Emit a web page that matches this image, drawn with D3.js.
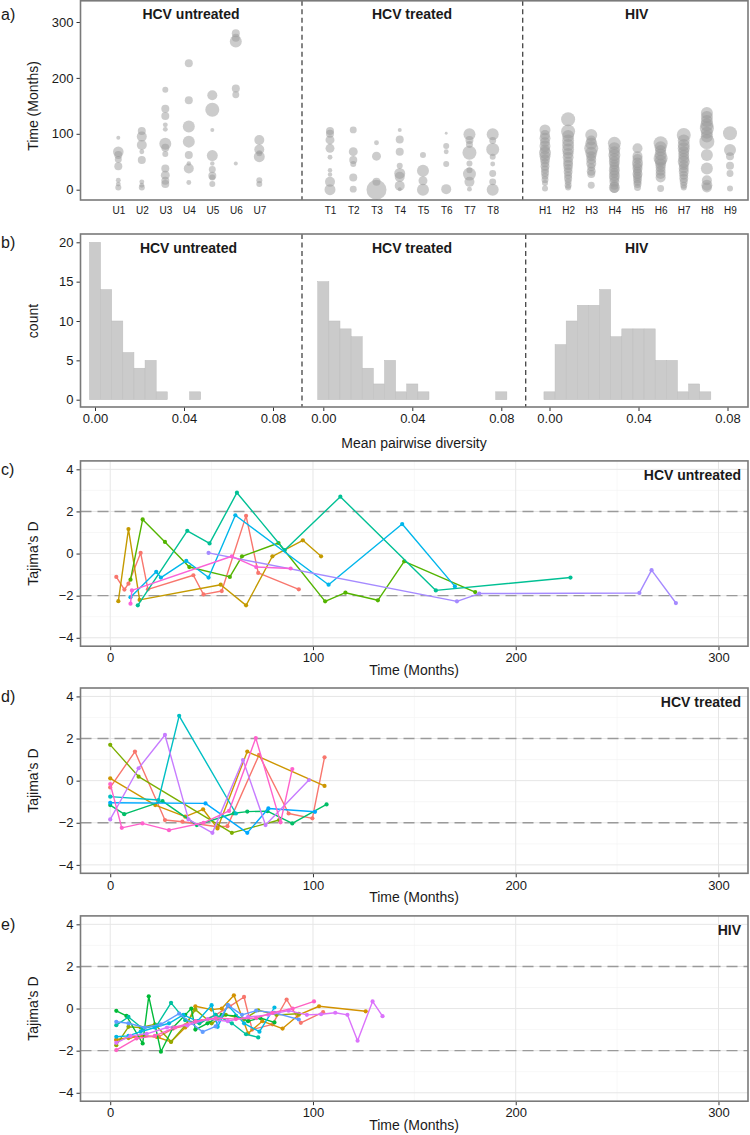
<!DOCTYPE html>
<html><head><meta charset="utf-8">
<script src="https://cdn.jsdelivr.net/npm/d3@7"></script>
<style>
body{margin:0;background:#fff}
text{font-family:"Liberation Sans",Arial,Helvetica,sans-serif}
</style>
</head><body>
<svg id="chart" width="750" height="1135"></svg>
<script>
// ---------- Panel a: sampling times per patient (bubble size = sample size) ----------
const untreatedIds = ["U1","U2","U3","U4","U5","U6","U7"];
const untreatedTimes = [
  [93,68,62,54,42,17,10,4],
  [105,95,80,68,53,14,8,4],
  [179,145,132,116,108,82,75,64,38,26,16,10],
  [226,160,113,86,62,47,38,13],
  [169,143,107,61,47,36,25,22,10],
  [280,272,265,181,170,47],
  [89,72,65,59,17,10]
];
const untreatedSizes = [
  [4,28,16,12,16,6,6,9],
  [16,25,25,6,16,6,6,9],
  [9,16,16,6,6,36,16,9,16,20,16,16],
  [16,16,36,36,16,5,25,6],
  [25,49,4,30,5,12,16,9,9],
  [16,16,36,16,12,4],
  [25,25,9,30,9,9]
];
const treatedIds = ["T1","T2","T3","T4","T5","T6","T7","T8"];
const treatedTimes = [
  [105,100,89,74,58,35,27,14,0],
  [107,68,53,46,22,1],
  [84,60,14,0],
  [107,90,68,43,29,23,7,1],
  [62,34,16,0],
  [101,78,68,46,1],
  [99,89,81,66,47,35,28,14,1],
  [99,88,72,59,46,29,14,0]
];
const treatedSizes = [
  [16,16,20,20,6,5,5,25,30],
  [12,20,16,9,16,12],
  [6,20,16,100],
  [4,16,16,9,30,25,25,4],
  [9,36,20,36],
  [2,9,6,9,25],
  [36,16,12,49,9,9,42,25,6],
  [36,12,42,9,6,12,12,36]
];
const hivIds = ["H1","H2","H3","H4","H5","H6","H7","H8","H9"];
const hivTimes = [
  [107,98,92,85,78,72,66,60,54,48,42,36,30,24,18,12,2],
  [126,104,96,88,80,72,65,58,50,44,38,32,26,20,14,8,4],
  [98,88,82,74,66,60,54,47,40,33,28,8],
  [83,74,68,62,56,50,45,40,35,30,25,20,14,8,4,2],
  [74,60,55,48,43,38,33,28,24,19,14,10,4],
  [83,76,70,63,56,52,46,40,34,28,22,2],
  [98,88,80,74,68,62,56,50,44,38,32,26,20,14,8,4],
  [137,130,123,116,110,102,95,86,62,38,17,8,4],
  [101,71,60,43,29,2]
];
const hivSizes = [
  [30,25,30,25,30,25,36,30,25,20,20,16,16,12,12,9,9],
  [49,49,36,36,36,36,30,30,25,25,20,20,16,16,12,12,9],
  [36,25,36,49,36,25,25,25,16,20,16,12],
  [42,36,30,36,30,30,25,25,30,25,30,25,25,20,30,20],
  [25,25,25,30,25,25,20,25,20,20,16,16,12],
  [49,36,30,36,49,36,30,25,25,25,25,12],
  [49,36,36,36,30,30,30,36,25,25,25,20,20,16,12,9],
  [36,36,36,42,49,36,36,56,36,36,25,30,25],
  [49,36,16,16,12,9]
];
const timeTicks = [0,100,200,300];

// ---------- Panel b: histogram of mean pairwise diversity (bins of 0.005 starting at 0) ----------
const binWidth = 0.005;
const untreatedCounts = [20,14,10,6,4,5,1,0,0,1];
const treatedCounts = [15,10,9,8,4,2,5,1,2,1,0,0,0,0,0,0,1];
const hivCounts = [1,7,10,12,12,14,8,9,9,9,5,5,1,2,1];
const countTicks = [0,5,10,15,20];
const diversityTicks = [0,0.04,0.08];
const groupNames = ["HCV untreated","HCV treated","HIV"];

// ---------- Panels c-e: Tajima's D over time ----------
const tajimaTicksX = [0,100,200,300];
const tajimaTicksY = [-4,-2,0,2,4];
const untreatedTajT = [
  [3,7,9,15,18.6,41,46,55,67,73,93],
  [4,9,14.5,54.5,67,80,95,104],
  [10,16,27,39,59,65,83,106,116,132,145,180],
  [13.6,38,49,62.5,86,113.5,160.6,227],
  [10,22.7,25,37.5,48.5,61.7,107.7,144,170],
  [48.5,171,182,261,267,279],
  [10,10.7,60,72,89]
];
const untreatedTajD = [
  [-1.11,-1.71,-1.43,0.03,-1.7,-1.03,-1.94,-1.78,1.79,-0.92,-1.70],
  [-2.26,1.16,-2.2,-1.48,-2.46,-0.13,0.63,-0.13],
  [-1.24,1.62,0.55,-0.64,-1.11,-0.13,0.5,-2.27,-1.86,-2.22,-0.37,-1.83],
  [-2.46,1.08,0.48,2.89,0.16,2.7,-1.75,-1.14],
  [-2.07,-0.87,-1.14,-0.35,-1.14,1.82,-1.48,1.40,-1.56],
  [0.03,-2.27,-1.9,-1.87,-0.79,-2.35],
  [-2.38,-1.75,-0.13,-0.64,-0.71]
];
const treatedTajT = [
  [0,12.2,27,35.6,52.9,57.8,73.4,88,99.7,105.7],
  [0,22.2,37,45.8,52.9,67.6,105.7],
  [0,14,60,83.3],
  [0,6.9,25.8,42.7,61,67.6,77.5,89.8,106.7],
  [0,23.8,34,62],
  [0,47,67.6,78,101],
  [0,14,27,38.6,50.4,65.5,76.6,98],
  [0,5.7,15.9,29,46,58.6,71.8,84,89.8]
];
const treatedTajD = [
  [-0.32,1.38,-1.87,-1.95,-2.19,-2.16,1.22,-1.56,-1.79,1.11],
  [0.11,-1.16,-1.71,-1.36,-2.27,1.38,-0.25],
  [1.7,0.19,-2.48,-1.87],
  [-1.16,-1.59,-0.97,-2.11,-1.55,-1.47,-1.45,-2.03,-1.13],
  [-0.76,-0.92,3.08,-1.56],
  [-1.05,-1.08,-2.48,-1.32,-1.48],
  [-1.84,0.59,2.17,-1.84,-2.48,0.98,-2.11,0.03],
  [-0.16,-2.24,-2.03,-2.35,-2.0,-1.44,2.02,-1.98,0.55]
];
const hivTajT = [
  [3,10,17,24,31,38,45,52,59,66,70,80,87,94,105],
  [3,9,16,23,30,37,42,50,55,61,68,75,85,93,103,126],
  [3,9,15,22,30,37,42,50,57,66,73,82,93],
  [3,8,16,19,25,31,37,40,42,48,55,62,68,74,81],
  [3,9,16,23,30,37,44,52,60,67,73],
  [3,9,15,22,29,36,43,50,53,58,66,73.6,81],
  [3,9,17,25,34,45.6,52,58,65,72,81,93],
  [3,10,18,28,38,48,58,68,78,88,97,104,111,117,122,129.4,134.3],
  [3,13,22,32,42,52,62,72,80,90,100.5]
];
const hivTajD = [
  [-1.5,-1.35,-1.3,-1.34,-0.95,-0.8,-0.6,-0.3,0.1,0.55,-1.0,-0.75,0.43,-0.68,-0.17],
  [-1.47,-1.4,-1.3,-1.35,-1.58,-0.9,0.11,-0.05,0.0,0.63,-1.18,-0.6,-0.95,-0.3,0.11,-0.13],
  [-1.74,-0.87,-0.9,-0.75,-1.58,-0.8,-0.05,-0.7,-0.3,-0.5,-0.08,-0.3,-0.25],
  [-0.11,-0.35,-1.66,0.58,-2.05,-0.9,-0.3,0.0,-1.0,-0.7,-0.3,-0.35,-0.6,-0.45,-0.66],
  [-0.79,-0.4,-0.95,-0.8,0.27,-0.55,-0.7,-0.3,-0.7,-1.22,-1.37],
  [-1.34,-1.3,-1.1,-0.9,-0.7,-0.3,-0.6,0.16,-0.87,0.16,-0.7,-1.1,0.05],
  [-0.63,-0.7,-0.9,-0.75,-0.24,-1.11,-0.85,0.16,-0.3,-0.1,-0.2,-0.52],
  [-1.63,-1.3,-1.2,-0.9,-0.8,-0.5,-0.6,-0.4,-0.3,-0.1,-0.3,-0.27,-0.2,-0.3,-1.53,0.34,-0.36],
  [-1.97,-1.42,-1.3,-0.9,-0.6,-0.45,-0.5,-0.45,-0.2,0.0,0.34]
];

// ---------- styles ----------
const hue7 = ["#F8766D","#C49A00","#53B400","#00C094","#00B6EB","#A58AFF","#FB61D7"];
const hue8 = ["#F8766D","#CD9600","#7CAE00","#00BE67","#00BFC4","#00A9FF","#C77CFF","#FF61CC"];
const hue9 = ["#F8766D","#D39200","#93AA00","#00BA38","#00C19F","#00B9E3","#619CFF","#DB72FB","#FF61C3"];
const FRAME = "#7a7a7a", TXT = "#1a1a1a";
const L = 80.5, R = 748;

const svg = d3.select("#chart");

function frame(top, bottom){
  svg.append("rect").attr("x",L).attr("y",top).attr("width",R-L).attr("height",bottom-top)
    .attr("fill","none").attr("stroke",FRAME).attr("stroke-width",1.6);
}
function panelLabel(txt, y){
  svg.append("text").attr("x",1).attr("y",y).attr("font-size",16).attr("fill",TXT).text(txt);
}
function styleAxis(g, fs){
  g.select(".domain").remove();
  g.selectAll(".tick line").attr("stroke","#333").attr("stroke-width",1);
  g.selectAll(".tick text").attr("font-size",fs).attr("fill",TXT)
    .attr("font-family","Liberation Sans, Arial, sans-serif");
}
function vTitle(txt, x, y){
  svg.append("text").attr("transform",`translate(${x},${y}) rotate(-90)`)
    .attr("text-anchor","middle").attr("font-size",14).attr("fill",TXT).text(txt);
}
function divider(x, top, bottom){
  svg.append("line").attr("x1",x).attr("x2",x).attr("y1",top).attr("y2",bottom)
    .attr("stroke","#444").attr("stroke-width",1.3).attr("stroke-dasharray","5,3.5");
}

// ================= Panel a =================
{
  const top = 0.8, bottom = 200;
  const y = d3.scaleLinear().domain([0,300]).range([189.7,22]);
  const r = d3.scaleSqrt().domain([0,100]).range([0,10]);
  const facets = [
    {ids:untreatedIds, times:untreatedTimes, sizes:untreatedSizes, range:[118.3,259.3], title:groupNames[0]},
    {ids:treatedIds, times:treatedTimes, sizes:treatedSizes, range:[330,492.7], title:groupNames[1]},
    {ids:hivIds, times:hivTimes, sizes:hivSizes, range:[545,730], title:groupNames[2]}
  ];
  const centers = [191,412,636.7];
  const gB = svg.append("g");
  facets.forEach((f,fi)=>{
    const x = d3.scalePoint().domain(f.ids).range(f.range);
    f.ids.forEach((id,i)=>{
      const pts = f.times[i].map((t,j)=>({t, s:f.sizes[i][j]}));
      gB.selectAll(null).data(pts).enter().append("circle")
        .attr("cx",x(id)).attr("cy",d=>y(d.t)).attr("r",d=>r(d.s))
        .attr("fill","#9a9a9a").attr("fill-opacity",0.5);
    });
    const ax = svg.append("g").attr("transform",`translate(0,${bottom})`)
      .call(d3.axisBottom(x).tickSize(0).tickPadding(7));
    styleAxis(ax, 10);
    svg.append("text").attr("x",centers[fi]).attr("y",19).attr("text-anchor","middle")
      .attr("font-size",14).attr("font-weight","bold").attr("fill",TXT).text(f.title);
  });
  divider(302, top, bottom); divider(522.7, top, bottom);
  const ay = svg.append("g").attr("transform",`translate(${L},0)`)
    .call(d3.axisLeft(y).tickValues(timeTicks).tickSize(4).tickPadding(3));
  styleAxis(ay, 13);
  frame(top, bottom);
  vTitle("Time (Months)", 38, 106);
  panelLabel("a)", 20);
}

// ================= Panel b =================
{
  const top = 234, bottom = 407;
  const y = d3.scaleLinear().domain([0,20]).range([399.7,242.3]);
  const counts = [untreatedCounts, treatedCounts, hivCounts];
  const x0 = [95, 323.3, 549.5];
  const centers = [188.5,412,636.7];
  counts.forEach((c,fi)=>{
    const x = d3.scaleLinear().domain([0,0.08]).range([x0[fi], x0[fi]+178]);
    const bins = c.map((n,i)=>({mid:i*binWidth, n}));
    svg.append("g").selectAll("rect").data(bins.filter(b=>b.n>0)).enter().append("rect")
      .attr("x",d=>x(d.mid-binWidth/2)).attr("width",d=>x(d.mid+binWidth/2)-x(d.mid-binWidth/2))
      .attr("y",d=>y(d.n)).attr("height",d=>y(0)-y(d.n))
      .attr("fill","#cbcbcb").attr("stroke","#bdbdbd").attr("stroke-width",0.5);
    const ax = svg.append("g").attr("transform",`translate(0,${bottom})`)
      .call(d3.axisBottom(x).tickValues(diversityTicks).tickFormat(d3.format(".2f")).tickSize(4).tickPadding(3));
    styleAxis(ax, 13);
    svg.append("text").attr("x",centers[fi]).attr("y",253).attr("text-anchor","middle")
      .attr("font-size",14).attr("font-weight","bold").attr("fill",TXT).text(groupNames[fi]);
  });
  divider(302, top, bottom); divider(525.7, top, bottom);
  const ay = svg.append("g").attr("transform",`translate(${L},0)`)
    .call(d3.axisLeft(y).tickValues(countTicks).tickSize(4).tickPadding(3));
  styleAxis(ay, 13);
  frame(top, bottom);
  vTitle("count", 38, 321);
  svg.append("text").attr("x",414).attr("y",448).attr("text-anchor","middle")
    .attr("font-size",14).attr("fill",TXT).text("Mean pairwise diversity");
  panelLabel("b)", 248);
}

// ================= Panels c, d, e =================
function tajimaPanel(top, label, title, times, values, colors){
  const bottom = top + 185.3;
  const x = d3.scaleLinear().domain([-14.66, 314.56]).range([L, R]);
  const y = d3.scaleLinear().domain([-4.4, 4.4]).range([bottom, top]);
  const g = svg.append("g");
  // minor grid
  [50,150,250].forEach(v=>g.append("line").attr("x1",x(v)).attr("x2",x(v)).attr("y1",top).attr("y2",bottom)
    .attr("stroke","#f2f2f2").attr("stroke-width",0.6));
  [-3,-1,1,3].forEach(v=>g.append("line").attr("x1",L).attr("x2",R).attr("y1",y(v)).attr("y2",y(v))
    .attr("stroke","#f2f2f2").attr("stroke-width",0.6));
  // major grid
  tajimaTicksX.forEach(v=>g.append("line").attr("x1",x(v)).attr("x2",x(v)).attr("y1",top).attr("y2",bottom)
    .attr("stroke","#e6e6e6").attr("stroke-width",1));
  tajimaTicksY.forEach(v=>g.append("line").attr("x1",L).attr("x2",R).attr("y1",y(v)).attr("y2",y(v))
    .attr("stroke","#e6e6e6").attr("stroke-width",1));
  // reference lines
  [-2,2].forEach(v=>g.append("line").attr("x1",L).attr("x2",R).attr("y1",y(v)).attr("y2",y(v))
    .attr("stroke","#9a9a9a").attr("stroke-width",1.4).attr("stroke-dasharray","11,6"));
  const line = d3.line().x(d=>x(d[0])).y(d=>y(d[1]));
  times.forEach((ts,i)=>{
    const pts = ts.map((t,j)=>[t, values[i][j]]);
    g.append("path").datum(pts).attr("d",line).attr("fill","none")
      .attr("stroke",colors[i]).attr("stroke-width",1.4).attr("stroke-linejoin","round");
    g.selectAll(null).data(pts).enter().append("circle")
      .attr("cx",d=>x(d[0])).attr("cy",d=>y(d[1])).attr("r",2.1).attr("fill",colors[i]);
  });
  const ax = svg.append("g").attr("transform",`translate(0,${bottom})`)
    .call(d3.axisBottom(x).tickValues(tajimaTicksX).tickSize(4).tickPadding(3));
  styleAxis(ax, 13);
  const ay = svg.append("g").attr("transform",`translate(${L},0)`)
    .call(d3.axisLeft(y).tickValues(tajimaTicksY).tickSize(4).tickPadding(3));
  styleAxis(ay, 13);
  frame(top, bottom);
  svg.append("text").attr("x",741).attr("y",top+19).attr("text-anchor","end")
    .attr("font-size",14).attr("font-weight","bold").attr("fill",TXT).text(title);
  vTitle("Tajima\u2019s D", 38, (top+bottom)/2);
  svg.append("text").attr("x",414).attr("y",bottom+29).attr("text-anchor","middle")
    .attr("font-size",14).attr("fill",TXT).text("Time (Months)");
  panelLabel(label, top+14);
}
tajimaPanel(460.9, "c)", groupNames[0], untreatedTajT, untreatedTajD, hue7);
tajimaPanel(688, "d)", groupNames[1], treatedTajT, treatedTajD, hue8);
tajimaPanel(915.9, "e)", groupNames[2], hivTajT, hivTajD, hue9);
</script>
</body></html>
